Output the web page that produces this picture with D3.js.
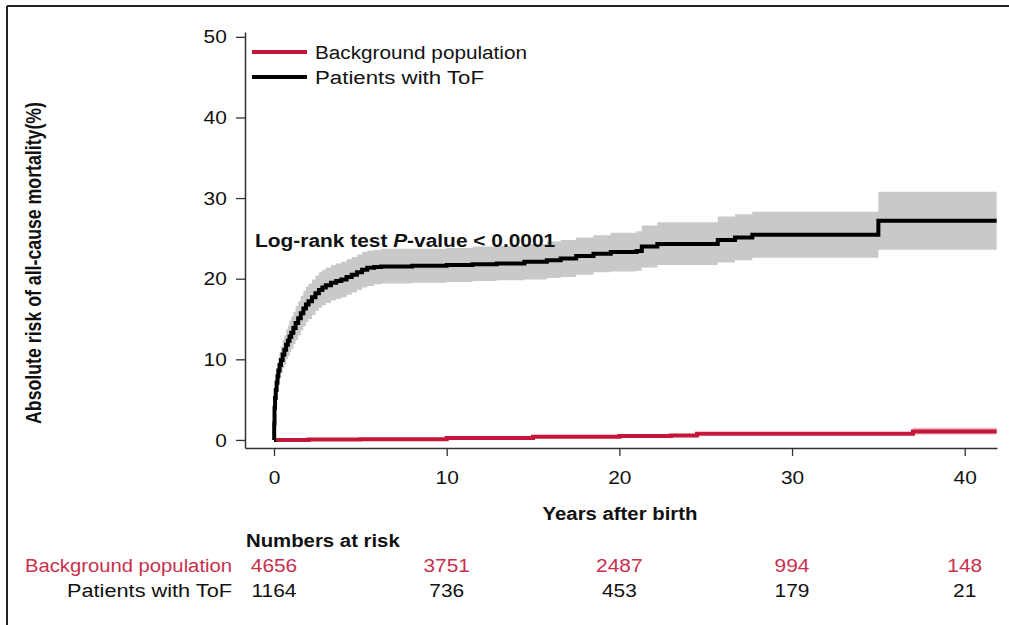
<!DOCTYPE html>
<html>
<head>
<meta charset="utf-8">
<script src="https://cdn.jsdelivr.net/npm/d3@7"></script>
<style>
  body { margin: 0; background: #fff; }
  svg { display: block; font-family: "Liberation Sans", Arial, sans-serif; }
</style>
</head>
<body>
<svg id="chart" width="1009" height="625"></svg>
<script>
// x ticks / numbers-at-risk columns
const riskYears = [0, 10, 20, 30, 40];
const yTicks = [0, 10, 20, 30, 40, 50];

// Patients with ToF: [years, risk %, lower CI, upper CI]
const tofCurve = [
  [0, 0, 0, 0],
  [0.01, 2.0, 1.2, 2.8],
  [0.03, 4.0, 3.0, 5.0],
  [0.06, 5.2, 4.1, 6.4],
  [0.1, 6.2, 5.0, 7.5],
  [0.15, 7.1, 5.8, 8.5],
  [0.2, 7.9, 6.5, 9.4],
  [0.25, 8.6, 7.1, 10.2],
  [0.32, 9.3, 7.7, 10.9],
  [0.4, 9.9, 8.3, 11.6],
  [0.5, 10.6, 8.9, 12.4],
  [0.6, 11.2, 9.4, 13.0],
  [0.7, 11.8, 10.0, 13.7],
  [0.8, 12.3, 10.4, 14.2],
  [0.9, 12.8, 10.9, 14.8],
  [1.0, 13.3, 11.3, 15.3],
  [1.12, 13.9, 11.9, 15.9],
  [1.25, 14.5, 12.4, 16.6],
  [1.4, 15.1, 13.0, 17.2],
  [1.55, 15.7, 13.6, 17.9],
  [1.7, 16.3, 14.1, 18.5],
  [1.85, 16.8, 14.6, 19.0],
  [2.0, 17.2, 15.0, 19.4],
  [2.2, 17.7, 15.5, 19.9],
  [2.4, 18.2, 16.0, 20.4],
  [2.6, 18.6, 16.4, 20.8],
  [2.8, 18.9, 16.7, 21.1],
  [3.0, 19.2, 17.0, 21.4],
  [3.3, 19.5, 17.3, 21.7],
  [3.6, 19.7, 17.5, 21.9],
  [3.9, 19.9, 17.7, 22.1],
  [4.2, 20.2, 18.0, 22.4],
  [4.5, 20.5, 18.3, 22.7],
  [4.8, 20.8, 18.6, 23.0],
  [5.1, 21.1, 18.9, 23.3],
  [5.4, 21.35, 19.1, 23.5],
  [5.8, 21.45, 19.3, 23.6],
  [6.2, 21.5, 19.4, 23.7],
  [8.0, 21.6, 19.5, 23.7],
  [10.0, 21.7, 19.6, 23.8],
  [11.5, 21.8, 19.7, 24.0],
  [12.9, 21.9, 19.8, 24.1],
  [14.5, 22.1, 19.9, 24.3],
  [15.8, 22.3, 20.1, 24.6],
  [16.6, 22.5, 20.2, 24.8],
  [17.5, 22.8, 20.5, 25.1],
  [18.5, 23.1, 20.8, 25.4],
  [19.5, 23.3, 20.9, 25.7],
  [21.0, 23.45, 21.0, 25.9],
  [21.3, 24.0, 21.4, 26.6],
  [22.2, 24.3, 21.7, 27.0],
  [25.7, 24.8, 22.0, 27.7],
  [26.7, 25.1, 22.3, 28.0],
  [27.7, 25.45, 22.6, 28.3],
  [35.0, 27.2, 23.6, 30.8],
  [41.85, 27.2, 23.6, 30.8]
];

// Background population: [years, risk %, lower CI, upper CI]
const bgCurve = [
  [0, 0, 0, 0],
  [2, 0.05, 0, 0.12],
  [5, 0.1, 0.03, 0.18],
  [10, 0.25, 0.17, 0.33],
  [15, 0.38, 0.3, 0.47],
  [20, 0.5, 0.4, 0.6],
  [23, 0.55, 0.45, 0.66],
  [24.5, 0.78, 0.62, 0.95],
  [37, 1.05, 0.68, 1.52],
  [41.85, 1.05, 0.68, 1.52]
];

const groups = ["Background population", "Patients with ToF"];
const atRiskBg = [4656, 3751, 2487, 994, 148];
const atRiskTof = [1164, 736, 453, 179, 21];

const RED = "#c4163a";
const RED_TXT = "#c8304e";
const SX = 1.1; // the source figure is a bit wide-stretched
const FS = 19;
const FS_BOLD = 18.5;

const svg = d3.select("#chart");

const x = d3.scaleLinear().domain([-1.68, 41.87]).range([245, 997]);
const y = d3.scaleLinear().domain([-1, 50.6]).range([448, 32]);

function txt(px, py, s, opts = {}) {
  const t = svg.append("text")
    .attr("transform", `translate(${px},${py}) scale(${SX},1)`)
    .attr("text-anchor", opts.anchor || "start")
    .style("font-size", (opts.bold ? FS_BOLD : FS) + "px")
    .style("font-weight", opts.bold ? "bold" : "normal")
    .style("fill", opts.fill || "#111")
    .text(s);
  if (opts.width) {
    // fit to the width measured on the source
    t.attr("textLength", opts.width / SX).attr("lengthAdjust", "spacingAndGlyphs");
  }
  return t;
}

// frame
svg.append("line").attr("x1", 7).attr("x2", 7).attr("y1", 6).attr("y2", 625)
  .style("stroke", "#222").style("stroke-width", 2);
svg.append("line").attr("x1", 7).attr("x2", 1009).attr("y1", 6).attr("y2", 6)
  .style("stroke", "#222").style("stroke-width", 2);

// confidence bands
const band = d3.area()
  .x(d => x(d[0]))
  .y0(d => y(d[2]))
  .y1(d => y(d[3]))
  .curve(d3.curveStepAfter);

svg.append("path").datum(tofCurve).attr("d", band).style("fill", "#c9c9c9");
svg.append("path").datum(bgCurve).attr("d", band).style("fill", "#f0b8c3");

const line = d3.line()
  .x(d => x(d[0]))
  .y(d => y(d[1]))
  .curve(d3.curveStepAfter);

svg.append("path").datum(bgCurve).attr("d", line)
  .style("fill", "none").style("stroke", RED).style("stroke-width", 4);
svg.append("path").datum(tofCurve).attr("d", line)
  .style("fill", "none").style("stroke", "#000").style("stroke-width", 4);

// axes
const xAxis = svg.append("g")
  .attr("transform", `translate(0,${y(-1)})`)
  .call(d3.axisBottom(x).tickValues(riskYears).tickSize(8).tickSizeOuter(0).tickPadding(15));
const yAxis = svg.append("g")
  .attr("transform", `translate(${x(-1.68)},0)`)
  .call(d3.axisLeft(y).tickValues(yTicks).tickSize(9).tickSizeOuter(0).tickPadding(7.5));

[xAxis, yAxis].forEach(a => {
  a.select(".domain").style("stroke", "#333").style("stroke-width", 1.5);
  a.selectAll(".tick line").style("stroke", "#333").style("stroke-width", 1.3);
  a.selectAll(".tick text")
    .attr("transform", `scale(${SX},1)`)
    .style("font-family", "'Liberation Sans', Arial, sans-serif")
    .style("font-size", FS + "px")
    .style("fill", "#111");
});

// axis titles
txt(620, 520, "Years after birth", { anchor: "middle", bold: true });
svg.append("text")
  .attr("transform", `translate(41,263) scale(${SX},1) rotate(-90)`)
  .attr("text-anchor", "middle")
  .attr("textLength", 322)
  .attr("lengthAdjust", "spacingAndGlyphs")
  .style("font-size", "20px")
  .style("font-weight", "bold")
  .style("fill", "#111")
  .text("Absolute risk of all-cause mortality(%)");

// legend
const legendColors = [RED, "#000"];
const legendWidths = [212, 169];
groups.forEach((g, i) => {
  const ly = 52 + i * 25;
  svg.append("line").attr("x1", 252).attr("x2", 307).attr("y1", ly).attr("y2", ly)
    .style("stroke", legendColors[i]).style("stroke-width", 4);
  txt(315, ly + 6.5, g, { width: legendWidths[i] });
});

// log-rank annotation
const lr = txt(255, 247, "", { bold: true });
lr.style("font-size", "19px");
lr.append("tspan").text("Log-rank test ");
lr.append("tspan").style("font-style", "italic").text("P");
lr.append("tspan").text("-value < 0.0001");

// numbers at risk
txt(246, 547, "Numbers at risk", { bold: true });
txt(232, 572, groups[0], { anchor: "end", fill: RED_TXT, width: 207 });
txt(232, 597, groups[1], { anchor: "end", width: 165 });
riskYears.forEach((yr, i) => {
  txt(x(yr), 572, atRiskBg[i], { anchor: "middle", fill: RED_TXT });
  txt(x(yr), 597, atRiskTof[i], { anchor: "middle" });
});
</script>
</body>
</html>
